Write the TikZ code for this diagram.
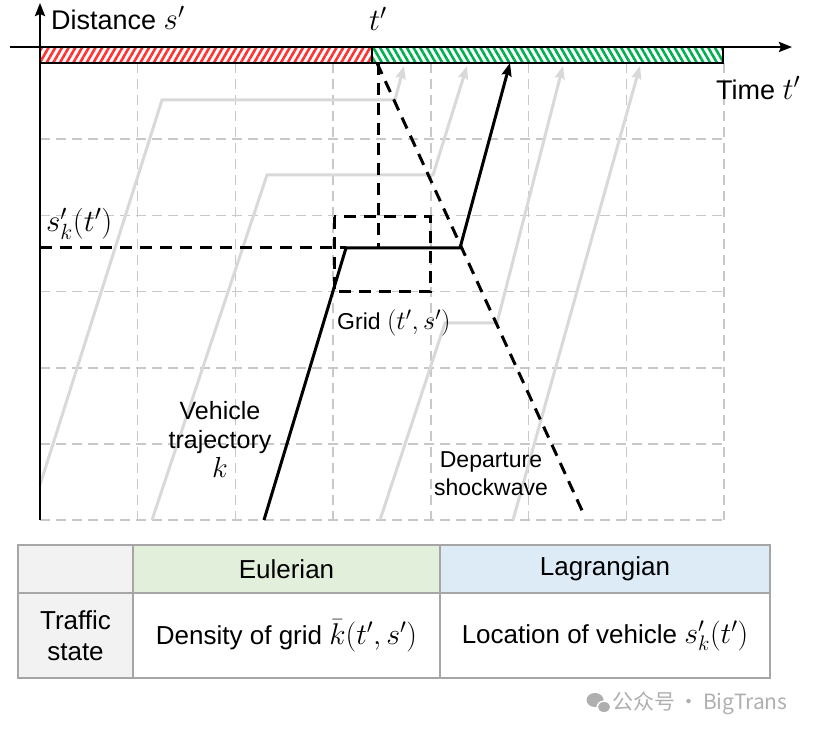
\RequirePackage{fix-cm}
\documentclass[tikz,border=0pt]{standalone}
\usepackage{fontspec}
\setmainfont{Liberation Sans}
\newfontfamily\cjk{Noto Sans CJK SC}
\DeclareMathSizes{27}{31}{22}{17}
\DeclareMathSizes{25}{29}{20}{15}
\DeclareMathSizes{23}{26.5}{19}{14}
\DeclareMathSizes{26}{30}{21}{16}
\usetikzlibrary{patterns.meta,arrows.meta}
\definecolor{gridgray}{RGB}{200,200,200}
\definecolor{trajgray}{RGB}{217,217,217}
\definecolor{hatchred}{RGB}{255,50,50}
\definecolor{hatchgreen}{RGB}{0,176,80}
\definecolor{eulergreen}{RGB}{226,239,218}
\definecolor{lagblue}{RGB}{221,235,247}
\definecolor{headgray}{RGB}{242,242,242}
\definecolor{tableline}{RGB}{166,166,166}
\definecolor{wmgray}{RGB}{175,175,175}
\begin{document}
\begin{tikzpicture}[x=1pt,y=-1pt,
  gridline/.style={gridgray,line width=1.5pt,dash pattern=on 10pt off 6pt},
  blackdash/.style={black,line width=3pt,dash pattern=on 12pt off 8pt},
  axisline/.style={black,line width=2.5pt,-{Stealth[length=13pt,width=10pt,inset=2pt]}},
  grayveh/.style={trajgray,line width=3pt,-{Stealth[length=13pt,width=10pt,inset=2pt]}},
  blackveh/.style={black,line width=3pt,-{Stealth[length=13pt,width=10pt,inset=2pt]}},
  barframe/.style={black,line width=2.5pt},
  labbig/.style={font=\fontsize{27}{31}\selectfont,inner sep=0pt},
  labmid/.style={font=\fontsize{25}{29}\selectfont,inner sep=0pt,align=center},
  labsmall/.style={font=\fontsize{23}{28}\selectfont,inner sep=0pt,align=center},
  tab/.style={font=\fontsize{26}{31}\selectfont,inner sep=0pt,align=center},
  tabline/.style={tableline,line width=1.5pt},
  wm/.style={font=\cjk\fontsize{21}{24}\selectfont,text=wmgray,inner sep=0pt}]
\useasboundingbox (0,0) rectangle (823,735);
\fill[white] (0,0) rectangle (823,735);

% grid
\foreach \x in {137.7,235.4,333.1,430.9,528.6,626.3,724} \draw[gridline] (\x,63) -- (\x,520);
\foreach \y in {63,139.2,215.4,291.6,367.8,444,520} \draw[gridline] (40,\y) -- (724,\y);

% gray vehicle trajectories
\coordinate (a0) at (40,485);  \coordinate (a1) at (162,100); \coordinate (a2) at (395,100); \coordinate (a3) at (404,66);
\coordinate (b0) at (152,520); \coordinate (b1) at (267,175); \coordinate (b2) at (433,175); \coordinate (b3) at (467,66);
\coordinate (c0) at (380,520); \coordinate (c1) at (445,323); \coordinate (c2) at (497,323); \coordinate (c3) at (563,66);
\coordinate (d0) at (513,520); \coordinate (d1) at (640,66);
\draw[grayveh] (a0) -- (a1) -- (a2) -- (a3);
\draw[grayveh] (b0) -- (b1) -- (b2) -- (b3);
\draw[grayveh] (c0) -- (c1) -- (c2) -- (c3);
\draw[grayveh] (d0) -- (d1);

% dashed helpers
\coordinate (sk) at (40,248);
\coordinate (tq) at (378,63);
\coordinate (tk) at (378,248);
\coordinate (sw0) at (377,63);
\coordinate (sw1) at (585,517);
\draw[blackdash] (sk) -- (346,248);
\draw[blackdash] (tq) -- (tk);
\draw[blackdash] (334,217) rectangle (430,292);
\draw[blackdash] (sw0) -- (sw1);

% vehicle trajectory k
\coordinate (k0) at (264,520); \coordinate (k1) at (346,248); \coordinate (k2) at (460,248); \coordinate (k3) at (510,63);
\draw[blackveh] (k0) -- (k1) -- (k2) -- (k3);

% hatched bar
\fill[white] (40,47) rectangle (723,63);
\fill[pattern={Lines[angle=60,distance=5.8pt,line width=2.6pt]},pattern color=hatchred] (40,47) rectangle (372,63);
\fill[pattern={Lines[angle=-60,distance=5.8pt,line width=2.6pt]},pattern color=hatchgreen] (372,47) rectangle (723,63);
\draw[barframe] (40,47) rectangle (372,63);
\draw[barframe] (372,47) rectangle (723,63);

% axes
\coordinate (o) at (40,520);
\coordinate (ytop) at (40,3);
\coordinate (xl) at (10,47);
\coordinate (xr) at (792,47);
\draw[axisline] (o) -- (ytop);
\draw[axisline] (xl) -- (xr);

% labels
\node[labbig, anchor=base west] (dist) at (51,30) {Distance $s'$};
\node[labbig, anchor=base] (tp) at (378,31) {$t'$};
\node[labbig, anchor=base west] (time) at (716,100) {Time $t'$};
\node[labbig, anchor=base west] (skt) at (46,232) {$s'_k(t')$};
\node[labsmall, anchor=base west] (grid) at (337,330) {Grid $(t',s')$};
\node[labmid, anchor=north] (veh) at (220,401) {Vehicle\\trajectory\\$k$};
\node[labsmall, anchor=north] (dep) at (491,451) {Departure\\shockwave};

% table
\fill[headgray] (18,545) rectangle (133,678);
\fill[eulergreen] (133,545) rectangle (440,593);
\fill[lagblue] (440,545) rectangle (770,593);
\draw[tabline] (18,545) rectangle (770,678);
\draw[tabline] (133,545) -- (133,678);
\draw[tabline] (440,545) -- (440,678);
\draw[tabline] (18,593) -- (770,593);
\node[tab] (eul) at (286.5,569) {Eulerian};
\node[tab] (lag) at (605,569) {Lagrangian};
\node[tab] (ts) at (75.5,636) {Traffic\\state};
\node[tab] (dens) at (286.5,636) {Density of grid $\bar{k}(t',s')$};
\node[tab] (loc) at (605,636) {Location of vehicle $s'_k(t')$};

% watermark
\fill[wmgray] (595,700) ellipse [x radius=8.5pt, y radius=7pt];
\fill[white] (604,707) ellipse [x radius=7.5pt, y radius=6.5pt];
\fill[wmgray] (604,707) ellipse [x radius=6pt, y radius=5pt];
\node[wm, anchor=west] (wmt) at (612,703) {公众号\,·\,BigTrans};
\end{tikzpicture}
\end{document}
